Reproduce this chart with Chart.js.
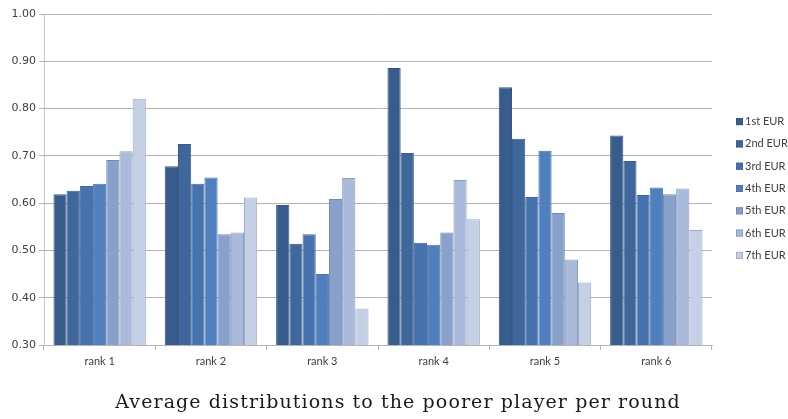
<!DOCTYPE html>
<html>
<head>
<meta charset="utf-8">
<script src="https://cdn.jsdelivr.net/npm/chart.js@4"></script>
<style>
  html, body { margin: 0; padding: 0; background: #ffffff; }
  #wrap { width: 788px; height: 419px; position: relative; }
</style>
</head>
<body>
<div id="wrap"><canvas id="chart" width="788" height="419"></canvas></div>
<script>
// Categories (player rank)
const ranks = ['rank 1', 'rank 2', 'rank 3', 'rank 4', 'rank 5', 'rank 6'];

// Series labels
const seriesNames = ['1st EUR', '2nd EUR', '3rd EUR', '4th EUR', '5th EUR', '6th EUR', '7th EUR'];

// Average distribution per EUR round, one array per round (values per rank)
const eur1 = [0.619, 0.678, 0.596, 0.886, 0.845, 0.743];
const eur2 = [0.626, 0.725, 0.514, 0.706, 0.736, 0.689];
const eur3 = [0.636, 0.641, 0.534, 0.516, 0.613, 0.617];
const eur4 = [0.641, 0.654, 0.450, 0.512, 0.711, 0.633];
const eur5 = [0.691, 0.534, 0.609, 0.538, 0.579, 0.619];
const eur6 = [0.710, 0.538, 0.653, 0.649, 0.481, 0.631];
const eur7 = [0.821, 0.612, 0.377, 0.566, 0.432, 0.543];

// Y axis ticks
const yTicks = [0.30, 0.40, 0.50, 0.60, 0.70, 0.80, 0.90, 1.00];

const titleText = 'Average distributions to the poorer player per round';

const fills   = ['#385c8b', '#3f679c', '#4673ad', '#4f80bd', '#87a1cb', '#a9badb', '#c5d0e4'];
const borders = ['#34557f', '#395e8f', '#41699e', '#4873ab', '#7088b5', '#8c9ec4', '#9eadc8'];

const seriesValues = [eur1, eur2, eur3, eur4, eur5, eur6, eur7];

const datasets = seriesNames.map((name, i) => ({
  label: name,
  data: seriesValues[i],
  backgroundColor: fills[i],
  borderColor: borders[i],
  borderWidth: 1,
  borderSkipped: 'bottom',
  categoryPercentage: 0.83,
  barPercentage: 1.0
}));

// Legend drawn as a column of small squares to the right of the plot
const sideLegend = {
  id: 'sideLegend',
  afterDraw(chart) {
    const ctx = chart.ctx;
    const area = chart.chartArea;
    const x = area.right + 24;
    const step = 22.3;
    const n = chart.data.datasets.length;
    const mid = (area.top + area.bottom) / 2 + 9;
    const y0 = mid - step * (n - 1) / 2;
    ctx.save();
    ctx.font = '11px Lato, "Open Sans", sans-serif';
    ctx.textBaseline = 'middle';
    ctx.textAlign = 'left';
    chart.data.datasets.forEach((ds, i) => {
      const y = y0 + i * step;
      ctx.fillStyle = ds.backgroundColor;
      ctx.fillRect(x, y - 3.5, 7, 7);
      ctx.strokeStyle = ds.borderColor;
      ctx.lineWidth = 1;
      ctx.strokeRect(x + 0.5, y - 3, 6, 6);
      ctx.fillStyle = '#404040';
      ctx.fillText(ds.label, x + 9, y);
    });
    ctx.restore();
  }
};

// Caption centred under the whole figure
const caption = {
  id: 'caption',
  afterDraw(chart) {
    const ctx = chart.ctx;
    ctx.save();
    ctx.font = '19px "DejaVu Serif", serif';
    if ('letterSpacing' in ctx) ctx.letterSpacing = '1.1px';
    ctx.fillStyle = '#1a1a1a';
    ctx.textAlign = 'center';
    ctx.textBaseline = 'alphabetic';
    ctx.fillText(titleText, chart.width / 2 + 4, 408);
    ctx.restore();
  }
};

new Chart(document.getElementById('chart'), {
  type: 'bar',
  data: { labels: ranks, datasets },
  options: {
    responsive: false,
    animation: false,
    events: [],
    layout: { padding: { top: 14, right: 76, left: 0, bottom: 50 } },
    scales: {
      x: {
        grid: {
          display: true,
          drawOnChartArea: false,
          drawTicks: true,
          tickLength: 5,
          color: '#b4b4b4',
          offset: true
        },
        border: { display: true, color: '#b4b4b4', width: 1 },
        ticks: {
          font: { family: 'Lato, "Open Sans", sans-serif', size: 11 },
          color: '#404040',
          padding: 5,
          maxRotation: 0
        },
        afterFit(scale) { scale.height = 24; }
      },
      y: {
        min: 0.3,
        max: 1.0,
        afterBuildTicks(scale) { scale.ticks = yTicks.map(v => ({ value: v })); },
        grid: {
          color: '#b4b4b4',
          drawTicks: true,
          tickLength: 5
        },
        border: { display: true, color: '#c8c8c8', width: 1 },
        ticks: {
          font: { family: '"DejaVu Sans", sans-serif', size: 11 },
          color: '#404040',
          padding: 3,
          callback: v => Number(v).toFixed(2)
        },
        afterFit(scale) { scale.width = 44; }
      }
    },
    plugins: {
      legend: { display: false },
      tooltip: { enabled: false },
      title: { display: false }
    }
  },
  plugins: [sideLegend, caption]
});
</script>
</body>
</html>
